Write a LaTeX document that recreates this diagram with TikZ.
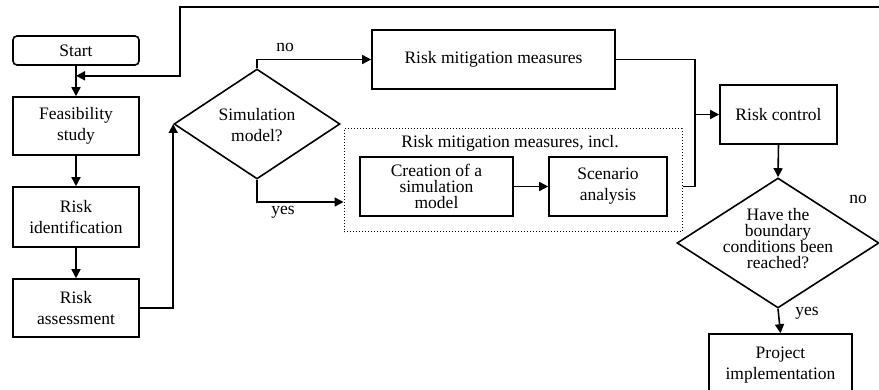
\documentclass[tikz,border=0pt]{standalone}
\usepackage{fontspec}
\setmainfont{Liberation Serif}
\usetikzlibrary{shapes.geometric,arrows.meta}
\begin{document}
\begin{tikzpicture}[x=1pt,y=-1pt,
  every node/.style={font=\fontsize{17.5}{21}\selectfont},
  box/.style={draw,line width=1.6pt,inner sep=0pt,align=center,minimum width=#1},
  box/.default=126pt,
  tight/.style={font=\fontsize{17.5}{16}\selectfont},
  dia/.style={draw,diamond,line width=1.6pt,inner sep=0pt},
  txt/.style={align=center,inner sep=0pt},
  conn/.style={line width=1.6pt},
  arr/.style={conn,-{Triangle[length=9pt,width=9pt]}}]
\clip (0,0) rectangle (879,390);
% left column
\node[box,rounded corners=4pt,minimum height=29pt] (start) at (76,50.5) {Start};
\node[box,minimum height=58pt] (feas) at (76,126) {Feasibility\\study};
\node[box,minimum height=60pt] (riskid) at (76,217) {Risk\\identification};
\node[box,minimum height=58pt] (riskass) at (76,308) {Risk\\assessment};
% simulation decision
\node[dia,minimum width=166pt,minimum height=110pt] (sim) at (257,124) {};
\node[txt] (simt) at (257,125) {Simulation\\model?};
% risk mitigation
\node[box=243pt,minimum height=59pt] (rmm) at (493.5,59.5) {Risk mitigation measures};
\node[draw,dotted,line width=1pt,minimum width=338pt,minimum height=103pt,inner sep=0pt] (dotted) at (513,180.5) {};
\node[txt] (dtitle) at (510,143) {Risk mitigation measures, incl.};
\node[box=153pt,minimum height=59pt,tight] (creation) at (436.5,186.5) {Creation of a\\simulation\\model};
\node[box=118pt,minimum height=59pt] (scen) at (608,186.5) {Scenario\\analysis};
% control
\node[box=117pt,minimum height=59pt] (rc) at (778.5,114.5) {Risk control};
\node[dia,minimum width=202pt,minimum height=130pt] (bound) at (778,243) {};
\node[txt,tight] (boundt) at (778,239) {Have the\\boundary\\conditions been\\reached?};
\node[box=143pt,minimum height=62pt] (proj) at (780.5,365) {Project\\implementation};
% labels
\node[txt] (no1) at (285,47) {no};
\node[txt] (yes1) at (283,212) {yes};
\node[txt] (no2) at (858,199) {no};
\node[txt] (yes2) at (807,313) {yes};
% coordinates
\coordinate (bus) at (695,114.5);
\coordinate (fbr) at (887,7);
\coordinate (fb) at (180,7);
% connectors
\draw[arr] (start.south) -- (feas.north);
\draw[arr] (feas.south) -- (riskid.north);
\draw[arr] (riskid.south) -- (riskass.north);
\draw[arr] (riskass.east) -| (sim.west);
\draw[arr] (sim.north) |- (rmm.west);
\draw[arr] (sim.south) |- ([yshift=-21.5pt]dotted.west);
\draw[arr] (creation.east) -- (scen.west);
\draw[conn] (rmm.east) -| (bus) |- (dotted.east |- creation.east);
\draw[arr] (bus) -- (rc.west);
\draw[arr] (rc.south) -- (bound.north);
\draw[arr] (bound.south) -- (proj.north);
\draw[arr] (bound.east) -| (fbr) -- (fb) |- ([yshift=-10pt]start.south);
\end{tikzpicture}
\end{document}
